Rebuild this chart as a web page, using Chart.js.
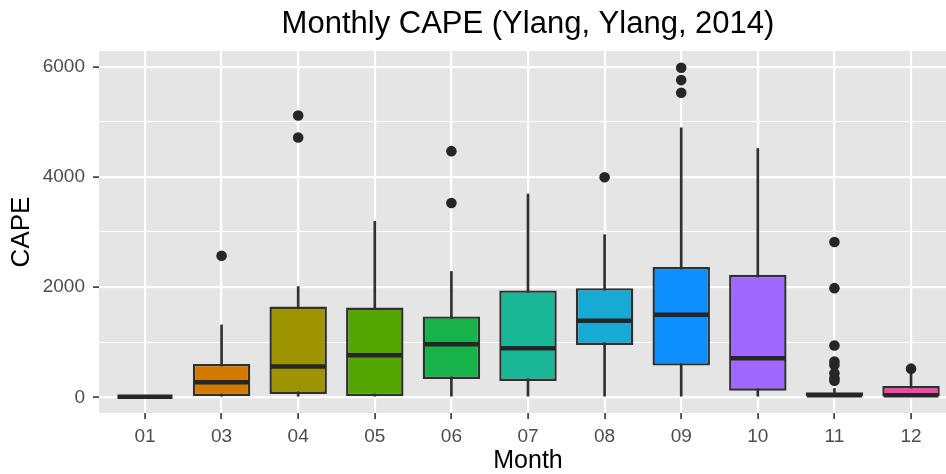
<!DOCTYPE html>
<html>
<head>
<meta charset="utf-8">
<script src="https://cdn.jsdelivr.net/npm/chart.js@4.4.1/dist/chart.umd.min.js"></script>
<style>
  html, body { margin: 0; padding: 0; background: #fff; }
  /* ggplot panel runs a little past the right edge of the picture, so clip it */
  #frame { width: 946px; height: 474px; overflow: hidden; }
  #wrap { width: 957px; height: 474px; position: relative; }
</style>
</head>
<body>
<div id="frame"><div id="wrap"><canvas id="myChart"></canvas></div></div>
<script>
const months = ['01', '03', '04', '05', '06', '07', '08', '09', '10', '11', '12'];
const q1 = [0, 0, 60, 0, 333, 296, 951, 575, 120, 0, 0];
const median = [10, 272, 557, 763, 963, 890, 1387, 1496, 709, 35, 35];
const q3 = [25, 605, 1648, 1630, 1467, 1939, 1981, 2363, 2224, 90, 205];
const whiskerLow = [0, 0, 0, 0, 0, 0, 0, 0, 0, 0, 0];
const whiskerHigh = [25, 1314, 2011, 3193, 2284, 3690, 2951, 4890, 4515, 160, 440];
const outliers = [
   [],
   [2569],
   [5115, 4715],
   [],
   [4467, 3527],
   [],
   [3993],
   [5981, 5757, 5527],
   [],
   [2818, 1981, 939, 648, 587, 436, 345, 302],
   [520]
];
const yTicks = [0, 1000, 2000, 3000, 4000, 5000, 6000];
const yTickLabels = ['0', '', '2000', '', '4000', '', '6000'];
const fills = ['#E7675C', '#D27A00', '#9E9400', '#54A600', '#17B34A', '#19B796',
   '#16AAD4', '#0E8FFF', '#A068FF', '#B83CB8', '#FF45AA'];

const boxData = months.map((m, i) => ({ x: i, y: [q1[i], q3[i]] }));
const whiskerData = months.map((m, i) => ({ x: i, y: [whiskerLow[i], whiskerHigh[i]] }));
const medianData = months.map((m, i) => ({ x: i, y: median[i] }));
const outlierData = [];
outliers.forEach((list, i) => list.forEach(v => outlierData.push({ x: i, y: v })));

const FONT = '"Liberation Sans", Arial, Helvetica, sans-serif';
Chart.defaults.font.family = FONT;

// grey panel behind the grid
const panelBg = {
   id: 'panelBg',
   beforeDraw(chart) {
      const { ctx, chartArea: a } = chart;
      ctx.save();
      ctx.fillStyle = '#fff';
      ctx.fillRect(0, 0, chart.width, chart.height);
      ctx.fillStyle = '#E5E5E5';
      ctx.fillRect(a.left, a.top, a.right - a.left, a.bottom - a.top);
      ctx.restore();
   }
};

const isMajor = c => c.tick && yTickLabels[yTicks.indexOf(c.tick.value)] !== '';

new Chart(document.getElementById('myChart'), {
   type: 'bar',
   data: {
      datasets: [
         {
            type: 'scatter',
            data: outlierData,
            order: 0,
            pointRadius: 5.3,
            pointBackgroundColor: '#262626',
            pointBorderWidth: 0
         },
         {
            type: 'scatter',
            data: medianData,
            order: 1,
            pointStyle: 'line',
            pointRadius: 27.5,
            pointBorderColor: '#262626',
            pointBorderWidth: 4.5
         },
         {
            data: boxData,
            order: 2,
            grouped: false,
            backgroundColor: fills,
            borderColor: '#303030',
            borderWidth: 2.4,
            borderSkipped: false,
            barPercentage: 0.75,
            categoryPercentage: 1
         },
         {
            data: whiskerData,
            order: 3,
            grouped: false,
            backgroundColor: '#303030',
            borderWidth: 0,
            barThickness: 2
         }
      ]
   },
   options: {
      responsive: true,
      maintainAspectRatio: false,
      animation: false,
      events: [],
      layout: { padding: 0, autoPadding: false },
      plugins: {
         legend: { display: false },
         tooltip: { enabled: false },
         title: {
            display: true,
            text: 'Monthly CAPE (Ylang, Ylang, 2014)',
            fullSize: false,
            color: '#000',
            font: { size: 31, weight: 'normal', lineHeight: 1.2 },
            padding: { top: 6, bottom: 7.8 }
         }
      },
      scales: {
         x: {
            type: 'linear',
            offset: false,
            min: -0.6,
            max: 10.6,
            afterFit: s => { s.height = 61; },
            afterBuildTicks: s => { s.ticks = months.map((m, i) => ({ value: i })); },
            border: { display: false },
            grid: {
               offset: false,
               color: '#fff',
               lineWidth: 2.2,
               tickColor: '#333',
               tickLength: 6,
               tickWidth: 1.6
            },
            ticks: {
               autoSkip: false,
               maxRotation: 0,
               padding: 6,
               color: '#4D4D4D',
               font: { size: 19 },
               callback: v => months[v]
            },
            title: {
               display: true,
               text: 'Month',
               color: '#000',
               font: { size: 25, lineHeight: 1 },
               padding: { top: 0, bottom: 0 }
            }
         },
         y: {
            type: 'linear',
            min: -285,
            max: 6285,
            afterFit: s => { s.width = 99; },
            afterBuildTicks: s => { s.ticks = yTicks.map(v => ({ value: v })); },
            border: { display: false },
            grid: {
               color: '#fff',
               lineWidth: c => isMajor(c) ? 2.2 : 1.1,
               tickColor: c => isMajor(c) ? '#333' : 'rgba(0,0,0,0)',
               tickLength: 6,
               tickWidth: 1.6
            },
            ticks: {
               autoSkip: false,
               padding: 8,
               color: '#4D4D4D',
               font: { size: 19 },
               callback: v => yTickLabels[yTicks.indexOf(v)]
            },
            title: {
               display: true,
               text: 'CAPE',
               color: '#000',
               font: { size: 26, lineHeight: 1.2 },
               padding: { top: 6.4, bottom: 6.4 }
            }
         }
      }
   },
   plugins: [panelBg]
});
</script>
</body>
</html>
